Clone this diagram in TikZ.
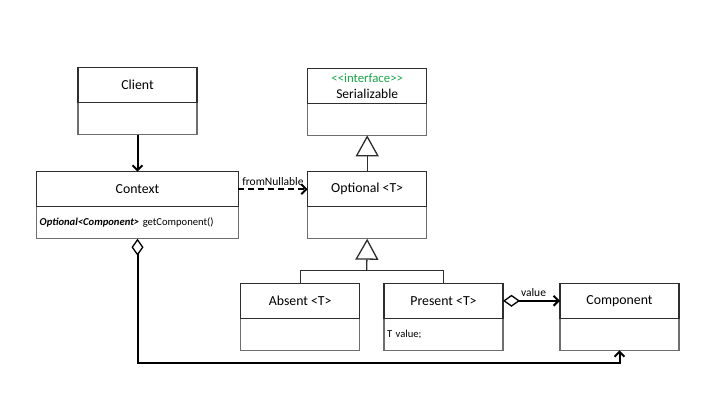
\documentclass[tikz,border=0pt]{standalone}
\usepackage{fontspec}
\setmainfont{Carlito}
\usetikzlibrary{arrows.meta}
\definecolor{edgedark}{HTML}{2E2E2E}
\definecolor{edgelight}{HTML}{6E6E6E}
\definecolor{stereo}{HTML}{1AA64A}
\begin{document}
\begin{tikzpicture}[x=1pt,y=-1pt,
  hdr/.style={draw=edgedark, line width=1.3pt, fill=white, minimum width=119pt,
    minimum height=35pt, anchor=north west, inner sep=0pt, outer sep=0pt,
    font=\fontsize{13.8}{15}\selectfont},
  bdy/.style={draw=edgelight, line width=1.3pt, minimum width=119pt, minimum height=32pt,
    anchor=north, inner xsep=3pt, inner ysep=0pt, outer sep=0pt, text width=113pt, align=left,
    font=\fontsize{10.6}{12}\selectfont},
  assoc/.style={line width=2pt, -{Straight Barb[length=5pt,width=10pt]}},
  inherit/.style={line width=1.3pt, draw=edgedark, -{Triangle[open,length=21pt,width=23pt,fill=white]}},
  gen/.style={line width=1.3pt, draw=edgedark},
  agg/.style={line width=2pt, {Diamond[open,length=17pt,width=12pt,line width=1.3pt,fill=white]}-{Straight Barb[length=5pt,width=10pt]}},
  lbl/.style={font=\fontsize{11.5}{13}\selectfont, inner sep=3pt},
  ifacehdr/.style={hdr, align=center, font=\fontsize{13.5}{16}\selectfont}
]
\useasboundingbox (0,0) rectangle (720,405);

% class boxes: compartment drawn first, header on top of it
\node[hdr] (client) at (78,67.5) {Client};
\node[bdy] (client-b) at (client.south) {};
\node[hdr] at (78,67.5) {Client};

\node[hdr, minimum width=201.6pt] (context) at (36.7,171.7) {Context};
\node[bdy, minimum width=201.6pt, text width=195.6pt] (context-b) at (context.south)
  {\textbf{\textit{Optional<Component>}} getComponent()};
\node[hdr, minimum width=201.6pt] at (36.7,171.7) {Context};

\node[ifacehdr] (serial) at (307.7,68.3)
  {{\color{stereo}\fontsize{12.8}{13}\selectfont<{}<interface>{}>}\\Serializable};
\node[bdy] (serial-b) at (serial.south) {};
\node[ifacehdr] at (307.7,68.3)
  {{\color{stereo}\fontsize{12.8}{13}\selectfont<{}<interface>{}>}\\Serializable};

\node[hdr] (optional) at (307.7,171.7) {Optional <T>};
\node[bdy] (optional-b) at (optional.south) {};
\node[hdr] at (307.7,171.7) {Optional <T>};

\node[hdr] (absent) at (240.7,283.3) {Absent <T>};
\node[bdy] (absent-b) at (absent.south) {};
\node[hdr] at (240.7,283.3) {Absent <T>};

\node[hdr] (present) at (384,283.3) {Present <T>};
\node[bdy] (present-b) at (present.south) {T value;};
\node[hdr] at (384,283.3) {Present <T>};

\node[hdr] (component) at (560,283.3) {Component};
\node[bdy] (component-b) at (component.south) {};
\node[hdr] at (560,283.3) {Component};

% relations
\draw[assoc] (client-b.south) -- (context.north);

\draw[assoc, dash pattern=on 6pt off 4pt] (context.east) -- (optional.west)
  node[lbl, midway, above] (fromnull) {fromNullable};

\draw[inherit] (optional.north) -- (serial-b.south);

\coordinate (bar) at (366.7,270.7);
\draw[gen] (absent.north) |- (bar) -| (present.north);
\draw[inherit] (bar) -- (optional-b.south);

\draw[agg] (present.east) -- (component.west)
  node[lbl, midway, above, xshift=2pt] (valuelbl) {value};

\coordinate (lowrun) at (137.5,363.3);
\draw[agg] (context-b.south) -- (lowrun) -| (component-b.south);
\end{tikzpicture}
\end{document}
